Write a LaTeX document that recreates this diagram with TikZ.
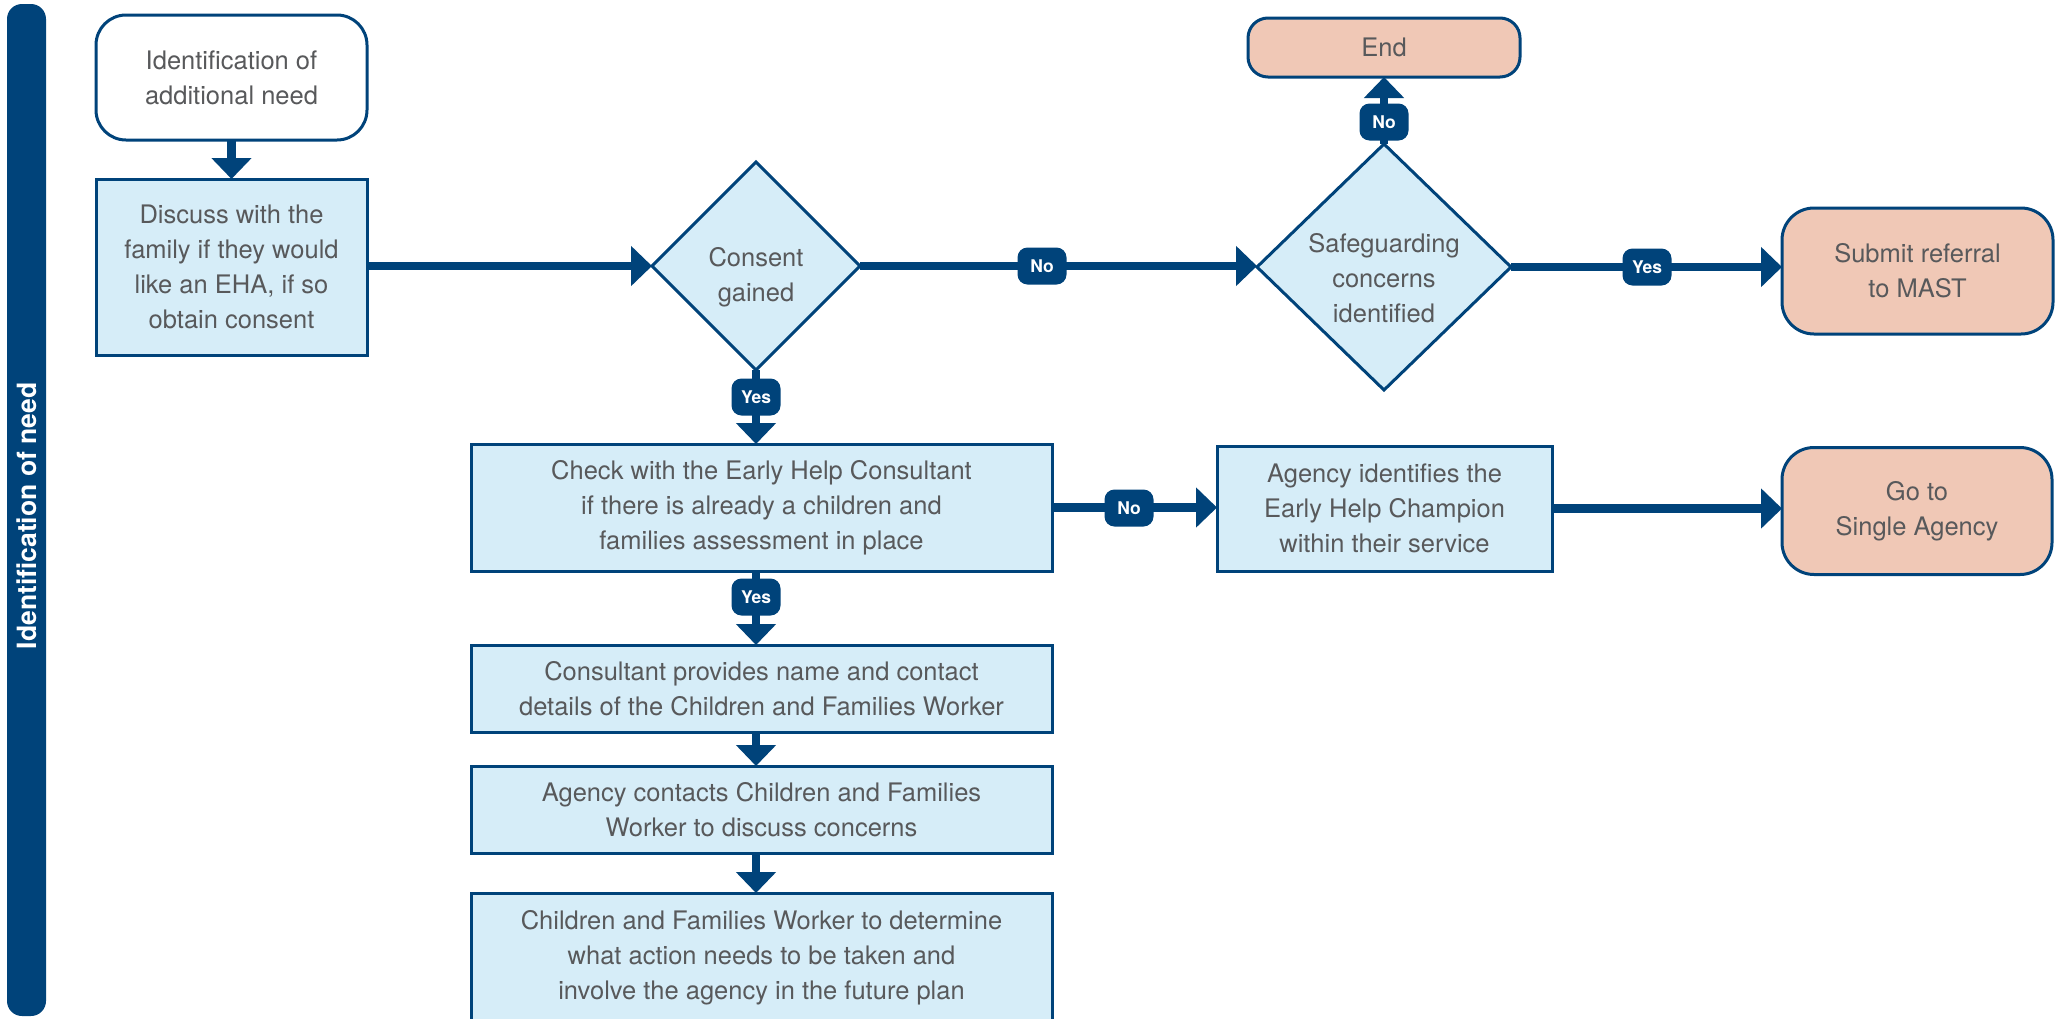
\documentclass[tikz,border=0pt]{standalone}
\usepackage{fontspec}
\setmainfont{TeX Gyre Heros}
\usetikzlibrary{shapes.geometric,arrows.meta}
\definecolor{navy}{HTML}{00437A}
\definecolor{paleblue}{HTML}{D6EDF8}
\definecolor{salmon}{HTML}{F0C8B6}
\definecolor{bodygray}{HTML}{58595B}

\begin{document}
\begin{tikzpicture}[x=1pt,y=-1pt,
  every node/.style={inner sep=0pt, outer sep=0pt},
  txt/.style={text=bodygray, font=\fontsize{25.5}{35}\selectfont, align=center},
  process/.style={txt, draw=navy, line width=3pt, fill=paleblue, rectangle},
  terminal/.style={txt, draw=navy, line width=3pt, rectangle, rounded corners=30pt},
  decision/.style={draw=navy, line width=3pt, fill=paleblue, diamond, aspect=1},
  pill/.style={fill=navy, text=white, font=\fontsize{17.5}{20}\selectfont\bfseries,
    rounded corners=10pt, minimum width=49pt, minimum height=37pt},
  conn/.style={draw=navy, line width=8.5pt, -{Triangle[length=21pt,width=39pt]}},
  lanebar/.style={fill=navy, text=white, rounded corners=15pt,
    font=\fontsize{26.5}{30}\selectfont\bfseries},
]
\useasboundingbox (0,0) rectangle (2063,1018);
\fill[white] (0,0) rectangle (2063,1018);

% swimlane
\node[lanebar, rotate=90, minimum width=1012pt, minimum height=39pt] (lane) at (26.5,510) {};
\node[rotate=90, text=white, font=\fontsize{26.5}{30}\selectfont\bfseries] (lanetitle) at (26.5,516) {Identification of need};

% left column
\node[terminal, fill=white, minimum width=271pt, minimum height=125pt] (start) at (231.5,77.5)
  {Identification of\\additional need};
\node[process, minimum width=271pt, minimum height=176pt] (discuss) at (231.5,267)
  {Discuss with the\\family if they would\\like an EHA, if so\\obtain consent};

% decisions (outline plus its question, set slightly below the centre)
\node[decision, minimum width=208pt, minimum height=208pt] (consent) at (756,266) {};
\node[txt] (consenttext) at (756,277) {Consent\\gained};
\node[decision, minimum width=254pt, minimum height=246pt] (safe) at (1384,267) {};
\node[txt] (safetext) at (1384,278) {Safeguarding\\concerns\\identified};

% outcomes
\node[terminal, fill=salmon, rounded corners=20pt, minimum width=272pt, minimum height=59pt] (end) at (1384,47.5) {End};
\node[terminal, fill=salmon, rounded corners=32pt, minimum width=271pt, minimum height=126pt] (submit) at (1917.5,271)
  {Submit referral\\to MAST};
\node[terminal, fill=salmon, rounded corners=32pt, minimum width=270pt, minimum height=127pt] (single) at (1917,511)
  {Go to\\Single Agency};

% process chain
\node[process, minimum width=581pt, minimum height=127pt] (check) at (761.5,507.5)
  {Check with the Early Help Consultant\\if there is already a children and\\families assessment in place};
\node[process, minimum width=335pt, minimum height=125pt] (agency) at (1384.5,508.5)
  {Agency identifies the\\Early Help Champion\\within their service};
\node[process, minimum width=581pt, minimum height=87pt] (consultant) at (761.5,688.5)
  {Consultant provides name and contact\\details of the Children and Families Worker};
\node[process, minimum width=581pt, minimum height=87pt] (contacts) at (761.5,809.5)
  {Agency contacts Children and Families\\Worker to discuss concerns};
\node[process, minimum width=581pt, minimum height=129pt] (cfw) at (761.5,957.5)
  {Children and Families Worker to determine\\what action needs to be taken and\\involve the agency in the future plan};

% connectors
\draw[conn] (start.south) -- (discuss.north);
\draw[conn] (discuss.east |- consent.west) -- (consent.west);
\draw[conn] (consent.east) -- (consent.east -| safe.west);
\draw[conn] (safe.north) -- (end.south);
\draw[conn] (safe.east) -- (safe.east -| submit.west);
\draw[conn] (consent.south) -- (consent.south |- check.north);
\draw[conn] (check.east) -- (check.east -| agency.west);
\draw[conn] (agency.east) -- (agency.east -| single.west);
\draw[conn] (consent.south |- check.south) -- (consent.south |- consultant.north);
\draw[conn] (consent.south |- consultant.south) -- (consent.south |- contacts.north);
\draw[conn] (consent.south |- contacts.south) -- (consent.south |- cfw.north);

% branch labels
\node[pill] (no1) at (1042,266) {No};
\node[pill] (no2) at (1384,122) {No};
\node[pill] (yes1) at (1647,267) {Yes};
\node[pill] (yes2) at (756,397) {Yes};
\node[pill] (no3) at (1129,508) {No};
\node[pill] (yes3) at (756,597) {Yes};
\end{tikzpicture}
\end{document}
